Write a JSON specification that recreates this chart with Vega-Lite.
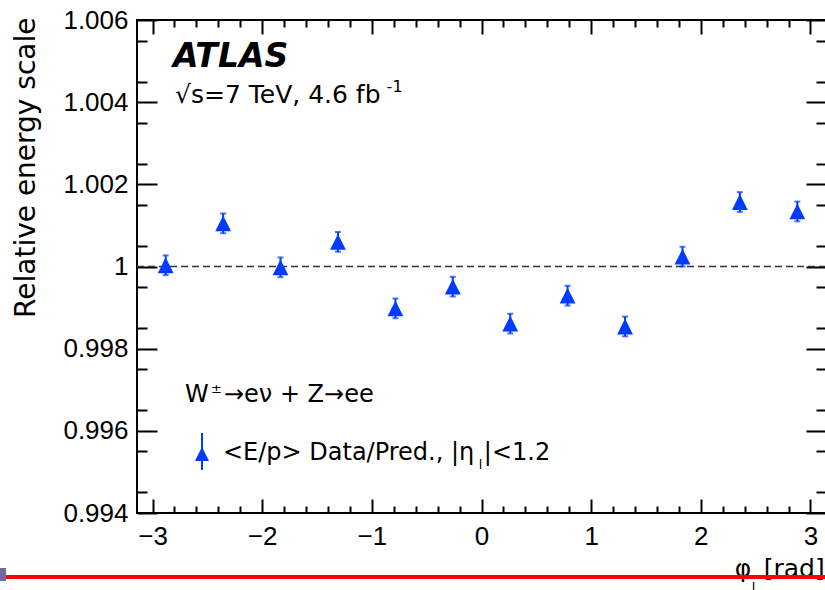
{
  "$schema": "https://vega.github.io/schema/vega-lite/v6.json",
  "width": 689,
  "height": 493,
  "autosize": {"type": "none"},
  "padding": {"left": 137, "top": 20, "right": 0, "bottom": 77},
  "background": "white",
  "config": {
    "view": {"stroke": "black", "strokeWidth": 2},
    "font": "DejaVu Sans",
    "axis": {"domain": false, "grid": false, "tickColor": "black", "tickWidth": 2, "labelColor": "black", "labelFont": "Liberation Sans", "titleFont": "DejaVu Sans", "titleFontWeight": "normal", "titleColor": "black"}
  },
  "datasets": {
    "pts": [
      {"phi": -2.880, "v": 1.00003, "lo": 0.99979, "hi": 1.00027},
      {"phi": -2.356, "v": 1.00105, "lo": 1.00081, "hi": 1.00129},
      {"phi": -1.833, "v": 0.99998, "lo": 0.99974, "hi": 1.00022},
      {"phi": -1.309, "v": 1.00060, "lo": 1.00036, "hi": 1.00084},
      {"phi": -0.785, "v": 0.99898, "lo": 0.99874, "hi": 0.99922},
      {"phi": -0.262, "v": 0.99951, "lo": 0.99927, "hi": 0.99975},
      {"phi": 0.262, "v": 0.99861, "lo": 0.99837, "hi": 0.99885},
      {"phi": 0.785, "v": 0.99929, "lo": 0.99905, "hi": 0.99953},
      {"phi": 1.309, "v": 0.99854, "lo": 0.99830, "hi": 0.99878},
      {"phi": 1.833, "v": 1.00024, "lo": 1.00000, "hi": 1.00048},
      {"phi": 2.356, "v": 1.00157, "lo": 1.00133, "hi": 1.00181},
      {"phi": 2.880, "v": 1.00134, "lo": 1.00110, "hi": 1.00158}
    ]
  },
  "layer": [
    {
      "data": {"values": [{"y": 1}]},
      "mark": {"type": "rule", "strokeDash": [7, 4], "color": "#333333", "strokeWidth": 1.5},
      "encoding": {"y": {"field": "y", "type": "quantitative", "axis": null}}
    },
    {
      "data": {"name": "pts"},
      "mark": {"type": "rule", "color": "#003cff", "strokeWidth": 2},
      "encoding": {
        "x": {"field": "phi", "type": "quantitative", "axis": {"orient": "bottom", "values": [-2.8,-2.6,-2.4,-2.2,-1.8,-1.6,-1.4,-1.2,-0.8,-0.6,-0.4,-0.2,0.2,0.4,0.6,0.8,1.2,1.4,1.6,1.8,2.2,2.4,2.6,2.8], "tickSize": -7, "labels": false, "title": null}},
        "y": {"field": "lo", "type": "quantitative", "axis": {"orient": "left", "values": [0.9945,0.9955,0.9965,0.9975,0.9985,0.9995,1.0005,1.0015,1.0025,1.0035,1.0045,1.0055], "tickSize": -10, "labels": false, "title": null}},
        "y2": {"field": "hi"}
      }
    },
    {
      "data": {"name": "pts"},
      "mark": {"type": "tick", "orient": "horizontal", "color": "#003cff", "size": 6, "thickness": 2},
      "encoding": {
        "x": {"field": "phi", "type": "quantitative", "axis": {"orient": "top", "values": [-3,-2,-1,0,1,2,3], "tickSize": -14, "labels": false, "title": null}},
        "y": {"field": "hi", "type": "quantitative", "axis": {"orient": "right", "values": [0.994,0.996,0.998,1,1.002,1.004,1.006], "tickSize": -20, "labels": false, "title": null}}
      }
    },
    {
      "data": {"name": "pts"},
      "mark": {"type": "tick", "orient": "horizontal", "color": "#003cff", "size": 6, "thickness": 2},
      "encoding": {
        "x": {"field": "phi", "type": "quantitative", "axis": {"orient": "top", "values": [-2.8,-2.6,-2.4,-2.2,-1.8,-1.6,-1.4,-1.2,-0.8,-0.6,-0.4,-0.2,0.2,0.4,0.6,0.8,1.2,1.4,1.6,1.8,2.2,2.4,2.6,2.8], "tickSize": -7, "labels": false, "title": null}},
        "y": {"field": "lo", "type": "quantitative", "axis": {"orient": "right", "values": [0.9945,0.9955,0.9965,0.9975,0.9985,0.9995,1.0005,1.0015,1.0025,1.0035,1.0045,1.0055], "tickSize": -10, "labels": false, "title": null}}
      }
    },
    {
      "data": {"name": "pts"},
      "mark": {"type": "point", "shape": "M0,-1L-1,1L1,1Z", "filled": true, "color": "#003cff", "opacity": 1, "size": 250},
      "encoding": {
        "x": {"field": "phi", "type": "quantitative", "scale": {"domain": [-3.14159, 3.14159], "nice": false, "zero": false},
          "axis": {"orient": "bottom", "values": [-3,-2,-1,0,1,2,3], "format": "d", "tickSize": -14, "labelFontSize": 26, "labelPadding": 24, "title": null}},
        "y": {"field": "v", "type": "quantitative", "scale": {"domain": [0.994, 1.006], "nice": false, "zero": false},
          "axis": {"orient": "left", "values": [0.994,0.996,0.998,1,1.002,1.004,1.006], "format": ".3~f", "tickSize": -20, "labelFontSize": 26, "labelPadding": 29,
            "title": "Relative energy scale", "titleFontSize": 28, "titleAngle": -90, "titleAlign": "right", "titleBaseline": "alphabetic", "titleX": -103, "titleY": -3}}
      }
    },
    {
      "data": {"values": [{"x": -2.549, "y1": 0.995047, "y2": 0.995948}]},
      "mark": {"type": "rule", "color": "#003cff", "strokeWidth": 2},
      "encoding": {"x": {"field": "x", "type": "quantitative", "axis": null}, "y": {"field": "y1", "type": "quantitative", "axis": null}, "y2": {"field": "y2"}}
    },
    {
      "data": {"values": [{"x": -2.549, "y": 0.995437}]},
      "mark": {"type": "point", "shape": "M0,-1L-1,1L1,1Z", "filled": true, "color": "#003cff", "opacity": 1, "size": 200},
      "encoding": {"x": {"field": "x", "type": "quantitative", "axis": null}, "y": {"field": "y", "type": "quantitative", "axis": null}}
    },
    {
      "data": {"values": [{"x": -2.8134, "y": 1.004849, "t": "ATLAS"}]},
      "mark": {"type": "text", "align": "left", "baseline": "alphabetic", "font": "DejaVu Sans", "fontSize": 33, "fontWeight": "bold", "fontStyle": "italic", "color": "black"},
      "encoding": {"x": {"field": "x", "type": "quantitative", "axis": null}, "y": {"field": "y", "type": "quantitative", "axis": null}, "text": {"field": "t"}}
    },
    {
      "data": {"values": [{"x": -2.7952, "y": 1.003987, "t": "√s=7 TeV, 4.6 fb"}]},
      "mark": {"type": "text", "align": "left", "baseline": "alphabetic", "font": "DejaVu Sans", "fontSize": 25, "color": "black"},
      "encoding": {"x": {"field": "x", "type": "quantitative", "axis": null}, "y": {"field": "y", "type": "quantitative", "axis": null}, "text": {"field": "t"}}
    },
    {
      "data": {"values": [{"x": -2.704, "y": 0.99671, "t": "W"}, {"x": -2.3485, "y": 0.99671, "t": "→eν + Z→ee"}, {"x": -2.3577, "y": 0.99529, "t": "<E/p> Data/Pred., |η"}, {"x": 0.0216, "y": 0.99529, "t": "|<1.2"}]},
      "mark": {"type": "text", "align": "left", "baseline": "alphabetic", "font": "DejaVu Sans", "fontSize": 24, "color": "black"},
      "encoding": {"x": {"field": "x", "type": "quantitative", "axis": null}, "y": {"field": "y", "type": "quantitative", "axis": null}, "text": {"field": "t"}}
    },
    {
      "data": {"values": [{"x": -0.8654, "y": 1.004248, "t": "-1"}]},
      "mark": {"type": "text", "align": "left", "baseline": "alphabetic", "font": "DejaVu Sans", "fontSize": 16, "color": "black"},
      "encoding": {"x": {"field": "x", "type": "quantitative", "axis": null}, "y": {"field": "y", "type": "quantitative", "axis": null}, "text": {"field": "t"}}
    },
    {
      "data": {"values": [{"x": -2.467, "y": 0.996922, "t": "±"}, {"x": -0.024, "y": 0.995071, "t": "l"}, {"x": 2.465, "y": 0.99208, "t": "l"}]},
      "mark": {"type": "text", "align": "left", "baseline": "alphabetic", "font": "DejaVu Sans", "fontSize": 13, "color": "black"},
      "encoding": {"x": {"field": "x", "type": "quantitative", "axis": null}, "y": {"field": "y", "type": "quantitative", "axis": null}, "text": {"field": "t"}}
    },
    {
      "data": {"values": [{"x": 2.3097, "y": 0.992443, "t": "φ"}]},
      "mark": {"type": "text", "align": "left", "baseline": "alphabetic", "font": "DejaVu Sans", "fontSize": 25, "color": "black"},
      "encoding": {"x": {"field": "x", "type": "quantitative", "axis": null}, "y": {"field": "y", "type": "quantitative", "axis": null}, "text": {"field": "t"}}
    },
    {
      "data": {"values": [{"x": 3.1301, "y": 0.992443, "t": "[rad]"}]},
      "mark": {"type": "text", "align": "right", "baseline": "alphabetic", "font": "DejaVu Sans", "fontSize": 25, "color": "black"},
      "encoding": {"x": {"field": "x", "type": "quantitative", "axis": null}, "y": {"field": "y", "type": "quantitative", "axis": null}, "text": {"field": "t"}}
    },
    {
      "data": {"values": [{"x1": -5, "x2": 4, "y": 0.992443}]},
      "mark": {"type": "rule", "color": "#ff0000", "strokeWidth": 4},
      "encoding": {"x": {"field": "x1", "type": "quantitative", "axis": null}, "x2": {"field": "x2"}, "y": {"field": "y", "type": "quantitative", "axis": null}}
    },
    {
      "data": {"values": [{"x1": -4.3905, "x2": -4.3358, "y1": 0.992662, "y2": 0.992345}]},
      "mark": {"type": "rect", "color": "#6b6b9c"},
      "encoding": {"x": {"field": "x1", "type": "quantitative", "axis": null}, "x2": {"field": "x2"}, "y": {"field": "y1", "type": "quantitative", "axis": null}, "y2": {"field": "y2"}}
    }
  ],
  "resolve": {"axis": {"x": "independent", "y": "independent"}}
}
